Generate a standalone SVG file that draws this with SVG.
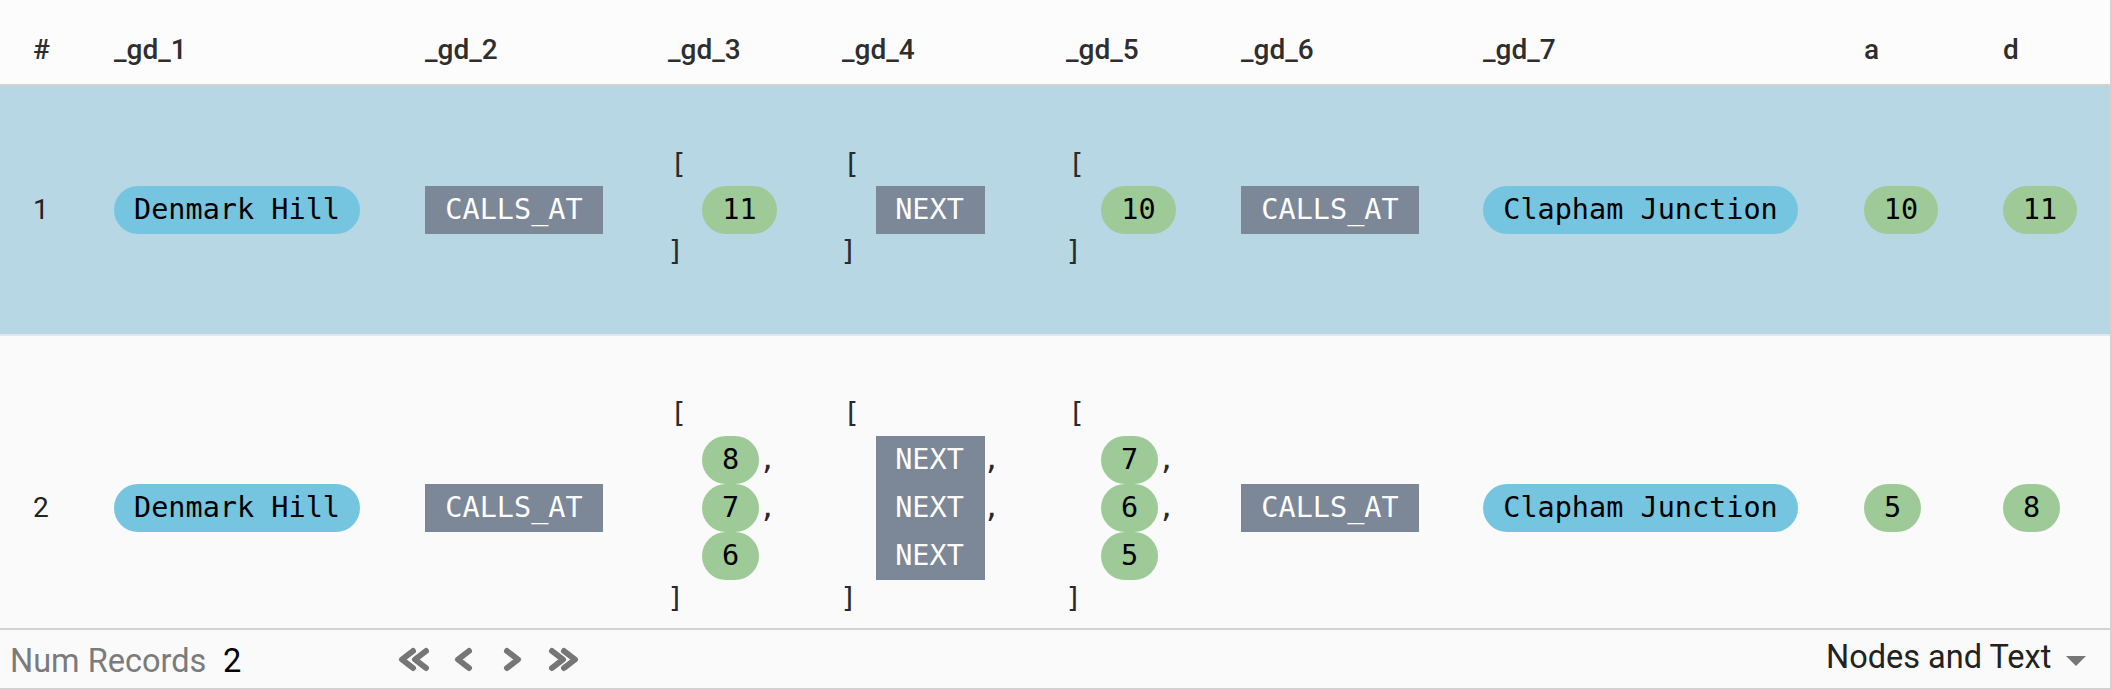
<svg xmlns="http://www.w3.org/2000/svg" width="2112" height="690" viewBox="0 0 2112 690">
<style>
.h{font:500 28px Roboto,sans-serif;fill:#2e2e2e}
.n{font:400 28px Roboto,sans-serif;fill:#222}
.m{font:400 28.5px "DejaVu Sans Mono",monospace;fill:#000;text-anchor:middle}
.w{fill:#fff}
.b{font:400 28.5px "DejaVu Sans Mono",monospace;fill:#2a2a2a}
.blue{fill:#76c5e0}
.green{fill:#9dca97}
.grey{fill:#7c8798}
.chev{fill:none;stroke:#767676;stroke-width:6;stroke-linecap:round;stroke-linejoin:round}
.line{fill:#d2d2d2}
.f{font:400 32.500px Roboto,sans-serif}
</style>
<rect width="2112" height="690" fill="#fafafa"/>
<rect width="2112" height="84" fill="#fcfcfc"/>
<rect y="86" width="2112" height="248" fill="#b6d7e3"/>
<rect y="84" width="2112" height="2" class="line"/>
<rect y="334" width="2112" height="2" fill="#e4e8ea"/>
<rect y="628" width="2112" height="2" class="line"/>
<rect y="688" width="2112" height="2" class="line"/>
<rect x="2110" width="2" height="690" class="line"/>
<g id="header">
<text class="h" x="33" y="59">#</text>
<text class="h" x="114" y="59">_gd_1</text>
<text class="h" x="425" y="59">_gd_2</text>
<text class="h" x="668" y="59">_gd_3</text>
<text class="h" x="842" y="59">_gd_4</text>
<text class="h" x="1066" y="59">_gd_5</text>
<text class="h" x="1241" y="59">_gd_6</text>
<text class="h" x="1483" y="59">_gd_7</text>
<text class="h" x="1864" y="59">a</text>
<text class="h" x="2003" y="59">d</text>
</g>
<g id="row1">
<text class="n" x="33" y="219">1</text>
<g id="r1-gd1"><rect class="blue" x="114" y="186" width="246" height="48" rx="24"/><text class="m" x="237" y="219">Denmark Hill</text></g>
<g id="r1-gd2"><rect class="grey" x="425" y="186" width="178" height="48"/><text class="m w" x="514" y="219">CALLS_AT</text></g>
<g id="r1-gd3"><text class="b" x="670" y="174">[</text><rect class="green" x="702" y="186" width="75" height="48" rx="24"/><text class="m" x="739.500" y="219">11</text><text class="b" x="667" y="261">]</text></g>
<g id="r1-gd4"><text class="b" x="843" y="174">[</text><rect class="grey" x="876" y="186" width="109" height="48"/><text class="m w" x="929.500" y="219">NEXT</text><text class="b" x="840" y="261">]</text></g>
<g id="r1-gd5"><text class="b" x="1068" y="174">[</text><rect class="green" x="1101" y="186" width="75" height="48" rx="24"/><text class="m" x="1138.500" y="219">10</text><text class="b" x="1065" y="261">]</text></g>
<g id="r1-gd6"><rect class="grey" x="1241" y="186" width="178" height="48"/><text class="m w" x="1330" y="219">CALLS_AT</text></g>
<g id="r1-gd7"><rect class="blue" x="1483" y="186" width="315" height="48" rx="24"/><text class="m" x="1640.500" y="219">Clapham Junction</text></g>
<g id="r1-a"><rect class="green" x="1864" y="186" width="74" height="48" rx="24"/><text class="m" x="1901" y="219">10</text></g>
<g id="r1-d"><rect class="green" x="2003" y="186" width="74" height="48" rx="24"/><text class="m" x="2040" y="219">11</text></g>
</g>
<g id="row2">
<text class="n" x="33" y="517">2</text>
<g id="r2-gd1"><rect class="blue" x="114" y="484" width="246" height="48" rx="24"/><text class="m" x="237" y="517">Denmark Hill</text></g>
<g id="r2-gd2"><rect class="grey" x="425" y="484" width="178" height="48"/><text class="m w" x="514" y="517">CALLS_AT</text></g>
<g id="r2-gd3"><text class="b" x="670" y="423">[</text>
<rect class="green" x="702" y="436" width="57" height="48" rx="24"/><text class="m" x="730.500" y="469">8</text><text class="b" x="759" y="469">,</text>
<rect class="green" x="702" y="484" width="57" height="48" rx="24"/><text class="m" x="730.500" y="517">7</text><text class="b" x="759" y="517">,</text>
<rect class="green" x="702" y="532" width="57" height="48" rx="24"/><text class="m" x="730.500" y="565">6</text>
<text class="b" x="667" y="608">]</text></g>
<g id="r2-gd4"><text class="b" x="843" y="423">[</text>
<rect class="grey" x="876" y="436" width="109" height="144"/>
<text class="m w" x="929.500" y="469">NEXT</text><text class="b" x="983" y="469">,</text>
<text class="m w" x="929.500" y="517">NEXT</text><text class="b" x="983" y="517">,</text>
<text class="m w" x="929.500" y="565">NEXT</text>
<text class="b" x="840" y="608">]</text></g>
<g id="r2-gd5"><text class="b" x="1068" y="423">[</text>
<rect class="green" x="1101" y="436" width="57" height="48" rx="24"/><text class="m" x="1129.500" y="469">7</text><text class="b" x="1158" y="469">,</text>
<rect class="green" x="1101" y="484" width="57" height="48" rx="24"/><text class="m" x="1129.500" y="517">6</text><text class="b" x="1158" y="517">,</text>
<rect class="green" x="1101" y="532" width="57" height="48" rx="24"/><text class="m" x="1129.500" y="565">5</text>
<text class="b" x="1065" y="608">]</text></g>
<g id="r2-gd6"><rect class="grey" x="1241" y="484" width="178" height="48"/><text class="m w" x="1330" y="517">CALLS_AT</text></g>
<g id="r2-gd7"><rect class="blue" x="1483" y="484" width="315" height="48" rx="24"/><text class="m" x="1640.500" y="517">Clapham Junction</text></g>
<g id="r2-a"><rect class="green" x="1864" y="484" width="57" height="48" rx="24"/><text class="m" x="1892.500" y="517">5</text></g>
<g id="r2-d"><rect class="green" x="2003" y="484" width="57" height="48" rx="24"/><text class="m" x="2031.500" y="517">8</text></g>
</g>
<g id="footer">
<text class="f" x="10" y="672" fill="#7b7b7b">Num Records</text>
<text class="f" x="223" y="672" fill="#000">2</text>
<path class="chev" d="M413 651l-11 8.500 11 8.500M426 651l-11 8.500 11 8.500"/>
<path class="chev" d="M469 651l-11 8.500 11 8.500"/>
<path class="chev" d="M507 651l11 8.500-11 8.500"/>
<path class="chev" d="M552 651l11 8.500-11 8.500M564 651l11 8.500-11 8.500"/>
<text class="f" x="1826" y="668" fill="#222">Nodes and Text</text>
<path d="M2066 656h20l-10 10z" fill="#767676"/>
</g>
</svg>
